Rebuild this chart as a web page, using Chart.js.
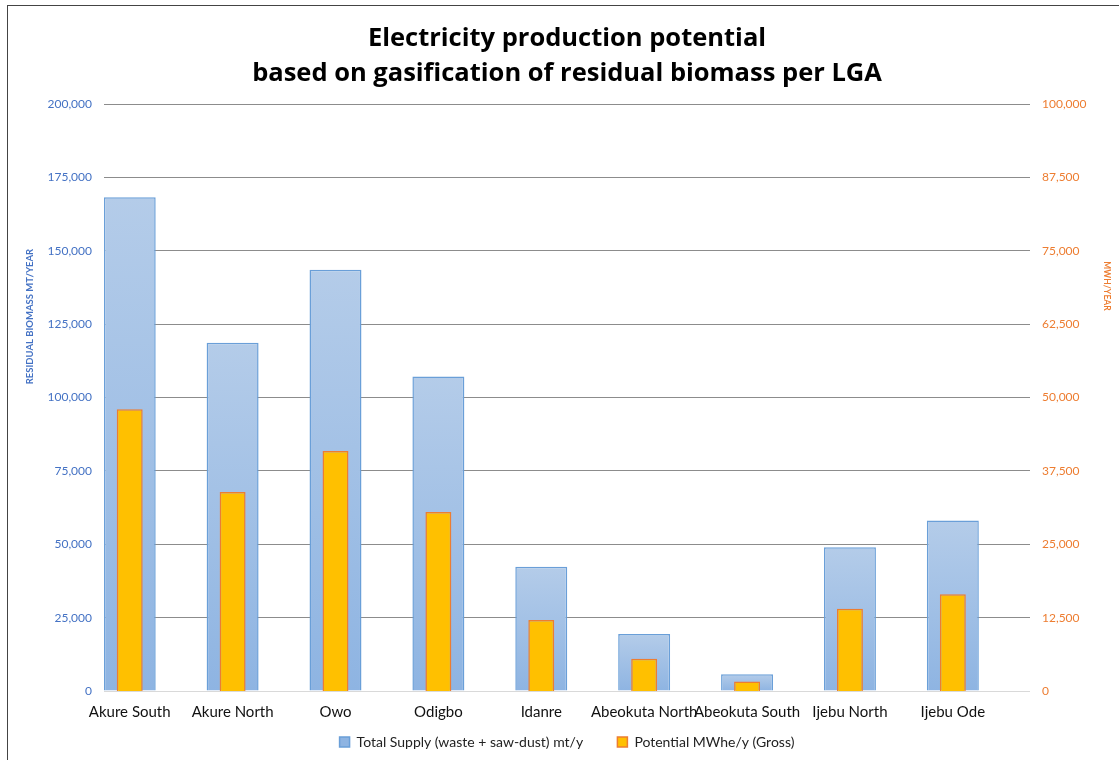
<!DOCTYPE html>
<html>
<head>
<meta charset="utf-8">
<script src="https://cdn.jsdelivr.net/npm/chart.js@4.4.1/dist/chart.umd.min.js"></script>
<style>
  html, body { margin: 0; padding: 0; background: #fff; overflow: hidden; }
  #wrap { position: relative; width: 1119px; height: 760px; }
  #frame { position: absolute; left: 7px; top: 5px; width: 1200px; height: 800px;
           border-left: 1px solid #444; border-top: 1px solid #444; pointer-events: none; }
</style>
</head>
<body>
<div id="wrap">
  <canvas id="biomass-chart" width="1119" height="760"></canvas>
  <div id="frame"></div>
</div>
<script>
// local government areas
var lgas = ["Akure South", "Akure North", "Owo", "Odigbo", "Idanre",
            "Abeokuta North", "Abeokuta South", "Ijebu North", "Ijebu Ode"];
// total supply of residual biomass, mt/y
var supply = [168200, 118700, 143500, 107200, 42300, 19400, 5700, 49000, 58100];
// potential electricity, MWhe/y
var potential = [48000, 33900, 40900, 30500, 12100, 5500, 1600, 14000, 16500];

var FONT = "Lato, 'Open Sans', sans-serif";

// vertical gradient per bar, light on top, darker at the base
function blueFill(ctx) {
    var chart = ctx.chart;
    if (!chart.chartArea || ctx.parsed === undefined) return '#a5c2e6';
    var y = chart.scales.y;
    var top = y.getPixelForValue(ctx.parsed.y);
    var base = y.getPixelForValue(0);
    if (!isFinite(top) || top === base) return '#a5c2e6';
    var g = chart.ctx.createLinearGradient(0, top, 0, base);
    g.addColorStop(0, '#b4cce9');
    g.addColorStop(1, '#8eb4e2');
    return g;
}

// axis titles sit off-centre along the axes
var axisTitles = {
    id: 'axisTitles',
    afterDraw: function(chart) {
        var c = chart.ctx, a = chart.chartArea;
        c.save();
        c.font = "bold 9.5px " + FONT;
        c.textAlign = 'center';
        c.textBaseline = 'middle';
        c.fillStyle = '#4472c4';
        c.translate(30, a.top + (a.bottom - a.top) * 0.362);
        c.rotate(-Math.PI / 2);
        c.fillText("RESIDUAL BIOMASS MT/YEAR", 0, 0);
        c.restore();
        c.save();
        c.font = "bold 8.5px " + FONT;
        c.textAlign = 'center';
        c.textBaseline = 'middle';
        c.fillStyle = '#ed7d31';
        c.translate(1107, a.top + (a.bottom - a.top) * 0.31);
        c.rotate(Math.PI / 2);
        c.fillText("MWH/YEAR", 0, 0);
        c.restore();
    }
};

var ctx = document.getElementById('biomass-chart').getContext('2d');
var chart = new Chart(ctx, {
    type: 'bar',
    data: {
        datasets: [{
            label: "Total Supply (waste + saw-dust) mt/y         ",
            data: supply.map(function(v, i) { return {x: i, y: v}; }),
            backgroundColor: blueFill,
            borderColor: '#6a9fd8',
            borderWidth: 1.5,
            grouped: false,
            categoryPercentage: 1,
            barPercentage: 0.505,
            yAxisID: 'y',
            order: 1
        }, {
            label: "Potential MWhe/y (Gross)",
            data: potential.map(function(v, i) { return {x: i, y: v}; }),
            backgroundColor: '#ffc000',
            borderColor: '#ed7d31',
            borderWidth: 1.5,
            grouped: false,
            categoryPercentage: 1,
            barPercentage: 0.252,
            yAxisID: 'y2',
            order: 0
        }]
    },
    options: {
        responsive: false,
        animation: false,
        layout: { padding: { left: 47, right: 32, top: 5, bottom: 1 } },
        plugins: {
            title: {
                display: true,
                text: ["Electricity production potential",
                       "based on gasification of residual biomass per LGA"],
                color: '#000',
                font: { family: "'Open Sans', sans-serif", size: 25.5, weight: 'bold', lineHeight: 1.373 },
                padding: { top: 16, bottom: 13 }
            },
            legend: {
                position: 'bottom',
                labels: {
                    color: '#222',
                    font: { family: FONT, size: 14 },
                    boxWidth: 10,
                    boxHeight: 10,
                    padding: 2,
                    sort: function(a, b) { return a.datasetIndex - b.datasetIndex; }
                }
            },
            tooltip: { enabled: false }
        },
        scales: {
            x: {
                type: 'linear',
                offset: false,
                min: -0.25,
                max: 8.75,
                afterBuildTicks: function(axis) {
                    axis.ticks = lgas.map(function(_, i) { return {value: i}; });
                },
                ticks: {
                    autoSkip: false,
                    maxRotation: 0,
                    color: '#111',
                    padding: 12,
                    font: { family: FONT, size: 15 },
                    callback: function(v) { return lgas[v]; }
                },
                grid: { display: false, drawTicks: false },
                border: { display: false }
            },
            y: {
                position: 'left',
                min: 0,
                max: 200000,
                ticks: {
                    stepSize: 25000,
                    color: '#4472c4',
                    padding: 12,
                    font: { family: FONT, size: 12 }
                },
                afterFit: function(s) { s.width = 57; },
                grid: {
                    drawTicks: false,
                    color: function(c) { return c.tick && c.tick.value === 0 ? '#d9d9d9' : '#8c8c8c'; }
                },
                border: { display: false }
            },
            y2: {
                position: 'right',
                min: 0,
                max: 100000,
                ticks: {
                    stepSize: 12500,
                    color: '#ed7d31',
                    padding: 12,
                    font: { family: FONT, size: 12 }
                },
                afterFit: function(s) { s.width = 57; },
                grid: { display: false, drawTicks: false },
                border: { display: false }
            }
        }
    },
    plugins: [axisTitles]
});
</script>
</body>
</html>
